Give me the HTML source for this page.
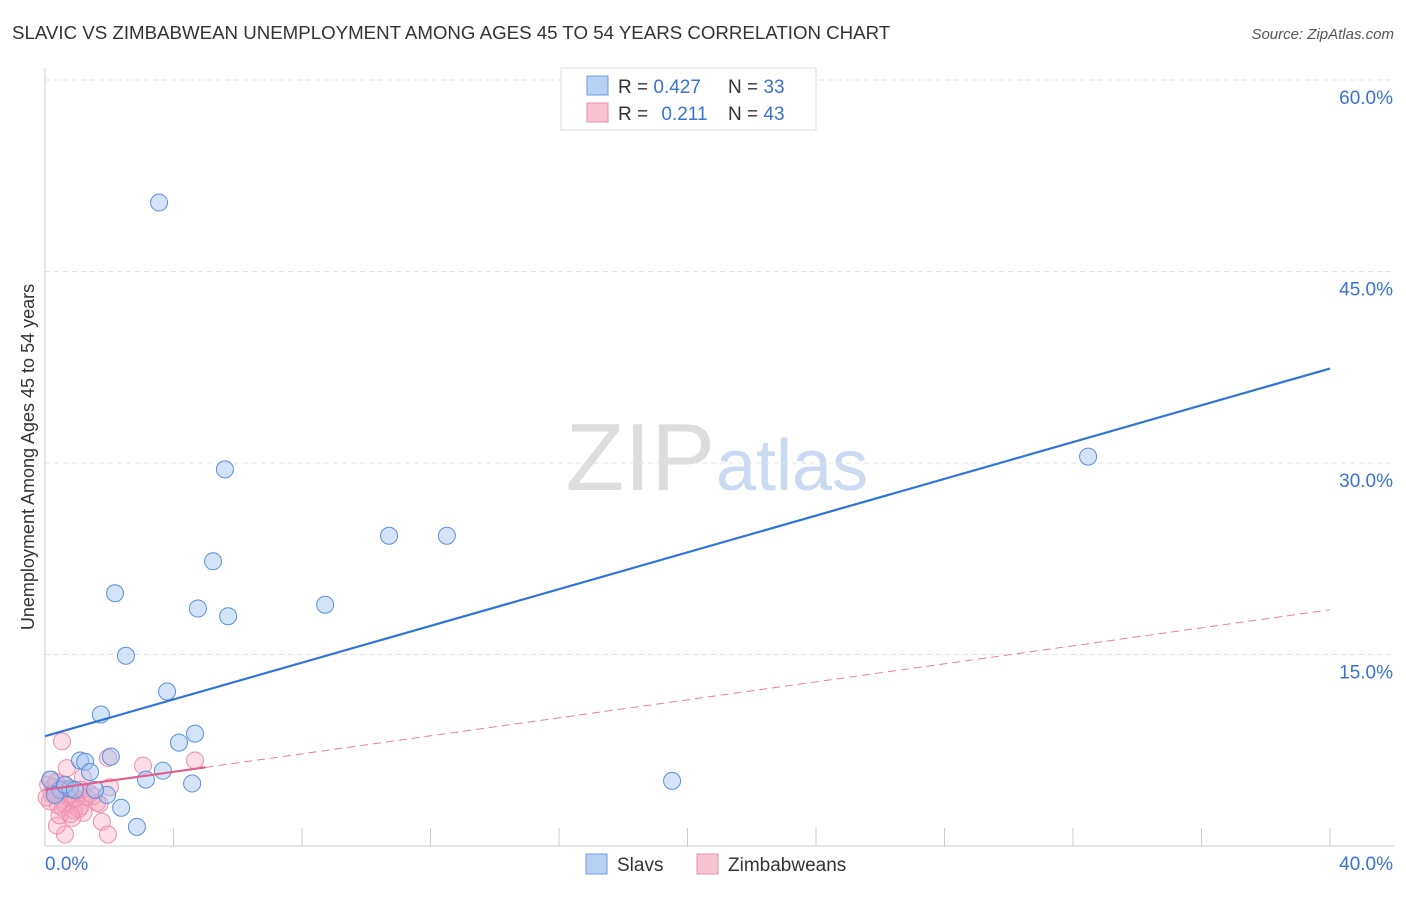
<!DOCTYPE html>
<html><head><meta charset="utf-8"><style>
body{margin:0;background:#fff;font-family:"Liberation Sans",sans-serif}
svg text{font-family:"Liberation Sans",sans-serif}
</style></head><body>
<svg width="1406" height="892" xmlns="http://www.w3.org/2000/svg">
<text x="12" y="39" font-size="18.7" fill="#333">SLAVIC VS ZIMBABWEAN UNEMPLOYMENT AMONG AGES 45 TO 54 YEARS CORRELATION CHART</text>
<text x="1394" y="39" font-size="15" fill="#555" font-style="italic" text-anchor="end">Source: ZipAtlas.com</text>
<text x="715" y="490" font-size="96" fill="#ddd" text-anchor="end" font-family="Liberation Serif">ZIP</text>
<text x="716" y="490" font-size="72" fill="#c9daf2">atlas</text>
<g id="grid"></g>
<g id="axes"></g>
<text transform="translate(34,457) rotate(-90)" font-size="18" fill="#333" text-anchor="middle">Unemployment Among Ages 45 to 54 years</text>
<g id="marks"></g>
<g>
<rect x="561" y="68" width="255" height="62" fill="#fff" stroke="#ddd"/>
<rect x="587" y="76" width="21" height="19" fill="#b7d1f5" stroke="#6a9de0"/>
<rect x="587" y="103" width="21" height="19" fill="#f8c4d3" stroke="#ea8fab"/>
<text x="618" y="93" font-size="19" fill="#333">R = <tspan fill="#3a72d4">0.427</tspan></text>
<text x="728" y="93" font-size="19" fill="#333">N = <tspan fill="#3a72d4">33</tspan></text>
<text x="618" y="120" font-size="19" fill="#333">R = <tspan fill="#3a72d4" dx="8">0.211</tspan></text>
<text x="728" y="120" font-size="19" fill="#333">N = <tspan fill="#3a72d4">43</tspan></text>
</g>
<g>
<rect x="586" y="854" width="21" height="20" fill="#b7d1f5" stroke="#6a9de0"/>
<text x="617" y="871" font-size="19" fill="#333">Slavs</text>
<rect x="697" y="854" width="21" height="20" fill="#f8c4d3" stroke="#ea8fab"/>
<text x="728" y="871" font-size="19" fill="#333">Zimbabweans</text>
</g>
</svg>
<script>
const yTicks=[15,30,45,60];
const yTickLabels=["15.0%","30.0%","45.0%","60.0%"];
const slavX=[3.55,5.60,10.71,12.51,5.23,2.18,4.76,5.70,8.72,2.52,3.80,1.74,4.67,4.17,2.05,1.09,1.25,1.40,3.67,3.14,4.58,19.52,32.47,1.93,2.37,2.86,1.56,0.47,0.16,0.78,0.31,0.62,0.93];
const slavY=[50.4,29.5,24.3,24.3,22.3,19.8,18.6,18.0,18.9,14.9,12.1,10.3,8.8,8.1,7.0,6.7,6.6,5.8,5.9,5.2,4.9,5.1,30.5,4.0,3.0,1.5,4.4,4.4,5.2,4.5,4.0,4.8,4.4];
const zimX=[0.53,4.67,3.05,1.96,0.68,1.18,2.02,1.62,1.77,1.96,0.62,0.37,0.1,0.2,0.3,0.4,0.5,0.6,0.7,0.8,0.9,1.0,1.1,1.2,1.3,1.4,0.15,0.25,0.45,0.55,0.75,0.85,0.95,1.05,0.35,0.65,1.5,0.2,0.4,0.8,1.15,0.05,1.7];
const zimY=[8.2,6.7,6.3,6.9,6.1,5.4,4.6,3.4,1.9,0.9,0.9,1.6,4.8,5.2,4.2,3.9,4.5,3.3,4.0,3.6,2.8,4.3,3.1,2.6,3.8,4.1,3.5,4.6,2.4,3.0,4.4,2.2,3.7,2.9,5.0,4.7,3.9,4.1,3.2,2.5,4.4,3.8,3.3];
const slavLine=[8.6,37.4];
const zimLine=[4.4,18.5];
const X0=45,X1=1330,Y0=846,Y60=80;
const xs=v=>X0+(v/40)*(X1-X0);
const ys=v=>Y0-(v/60)*(Y0-Y60);
const NS="http://www.w3.org/2000/svg";
function mk(t,a,p){const e=document.createElementNS(NS,t);for(const k in a)e.setAttribute(k,a[k]);p.appendChild(e);return e;}
const grid=document.getElementById('grid'),axes=document.getElementById('axes'),marks=document.getElementById('marks');
yTicks.forEach((t,i)=>{
 const l=mk('line',{x1:X0,x2:1394,y1:ys(t),y2:ys(t),stroke:'#e3e3e3','stroke-dasharray':'5,4'},grid);
 
 
 const tx=mk('text',{x:1393,y:ys(t)+24,'font-size':19,fill:'#3a72d4','text-anchor':'end'},axes);
 tx.textContent=yTickLabels[i];
 
 
});
const ax=mk('line',{x1:X0,x2:X0,y1:68,y2:Y0,stroke:'#ccc'},axes);


const bx=mk('line',{x1:X0,x2:X1+64,y1:Y0,y2:Y0,stroke:'#ccc'},axes);


for(let i=1;i<=10;i++){const t=mk('line',{x1:xs(i*4),x2:xs(i*4),y1:828,y2:Y0,stroke:'#ccc'},axes);
 
 }
[["0.0%",45,'start'],["40.0%",1393,'end']].forEach(d=>{const t=mk('text',{x:d[1],y:870,'font-size':19,fill:'#3a72d4','text-anchor':d[2]},axes);t.textContent=d[0];
 
 });
zimX.forEach((v,i)=>{const c=mk('circle',{cx:xs(v),cy:ys(zimY[i]),r:8.5,fill:'rgba(245,160,190,0.35)',stroke:'#ec8fae','stroke-width':1},marks);
 
 });
slavX.forEach((v,i)=>{const c=mk('circle',{cx:xs(v),cy:ys(slavY[i]),r:8.5,fill:'rgba(160,195,240,0.45)',stroke:'#5b8fdc','stroke-width':1},marks);
 
 });
const bl=mk('line',{x1:xs(0),y1:ys(slavLine[0]),x2:xs(40),y2:ys(slavLine[1]),stroke:'#2f74d6','stroke-width':2.2},marks);


const zs=v=>zimLine[0]+(zimLine[1]-zimLine[0])*v/40;
const pd=mk('line',{x1:xs(5),y1:ys(zs(5)),x2:xs(40),y2:ys(zimLine[1]),stroke:'#e87fa3','stroke-width':1,'stroke-dasharray':'8,5'},marks);


const ps=mk('line',{x1:xs(0),y1:ys(zimLine[0]),x2:xs(5),y2:ys(zs(5)),stroke:'#e0608c','stroke-width':2.2},marks);


</script>
</body></html>
